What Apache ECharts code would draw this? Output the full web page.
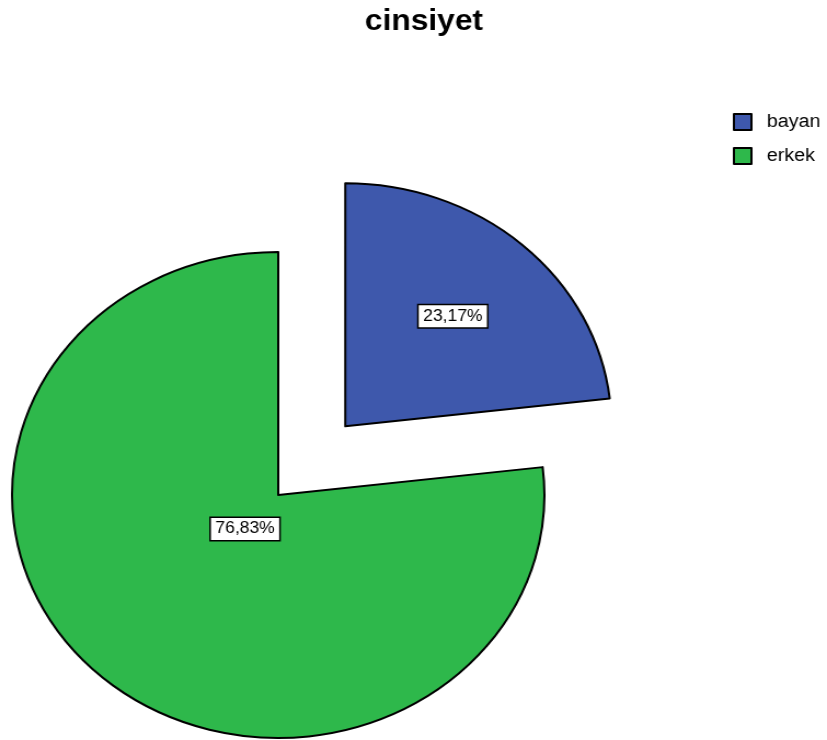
<!DOCTYPE html>
<html>
<head>
<meta charset="utf-8">
<script src="https://cdn.jsdelivr.net/npm/echarts@6/dist/echarts.min.js"></script>
<style>
  html, body { margin: 0; padding: 0; background: #fff; overflow: hidden; }
  /* the original pie is stretched wider than tall, so the chart is drawn narrow and scaled in x */
  #main { width: 755px; height: 740px; transform: scaleX(1.0954); transform-origin: 0 0; }
</style>
</head>
<body>
<div id="main"></div>
<script>
var categories = ['bayan', 'erkek'];
var percents = [23.17, 76.83];
var colors = ['#3e58ac', '#2eb84b'];
// where along the radius each label sits (0.5 = echarts 'inside')
var labelRadius = [0.595, 0.175];

var R = 243;
var chart = echarts.init(document.getElementById('main'));

var total = percents.reduce(function (a, b) { return a + b; }, 0);
var midAngles = [];
var acc = 0;
for (var i = 0; i < percents.length; i++) {
    midAngles.push((acc + percents[i] / 2) / total * Math.PI * 2);
    acc += percents[i];
}

var pieData = categories.map(function (name, i) {
    return {
        name: name,
        value: percents[i],
        selected: i === 0,
        itemStyle: { color: colors[i] }
    };
});

var option = {
    animation: false,
    title: {
        text: 'cinsiyet',
        left: 328,
        top: 2,
        textStyle: { fontSize: 29, fontWeight: 'bold', color: '#000', fontFamily: 'Liberation Sans, Arial, sans-serif' }
    },
    legend: {
        orient: 'vertical',
        left: 664,
        top: 108,
        itemWidth: 16,
        itemHeight: 16,
        itemGap: 16,
        icon: 'rect',
        selectedMode: false,
        itemStyle: { borderColor: '#000', borderWidth: 2 },
        textStyle: { fontSize: 18, color: '#000', fontFamily: 'Liberation Sans, Arial, sans-serif', padding: [0, 0, 0, 9] },
        data: categories
    },
    series: [{
        type: 'pie',
        center: [254, 495],
        radius: R,
        startAngle: 90,
        clockwise: true,
        selectedMode: 'single',
        selectedOffset: 92,
        emphasis: { scale: false },
        itemStyle: { borderColor: '#000', borderWidth: 2 },
        label: {
            show: true,
            position: 'inside',
            formatter: function (p) { return p.value.toFixed(2).replace('.', ',') + '%'; },
            color: '#000',
            fontSize: 16,
            fontFamily: 'Liberation Sans, Arial, sans-serif',
            backgroundColor: '#fff',
            borderColor: '#000',
            borderWidth: 1.5,
            padding: [3, 4, 3, 4]
        },
        labelLine: { show: false },
        labelLayout: function (params) {
            var k = (labelRadius[params.dataIndex] - 0.5) * R;
            var a = midAngles[params.dataIndex];
            return { dx: k * Math.sin(a), dy: -k * Math.cos(a) };
        },
        data: pieData
    }]
};
chart.setOption(option);
</script>
</body>
</html>
